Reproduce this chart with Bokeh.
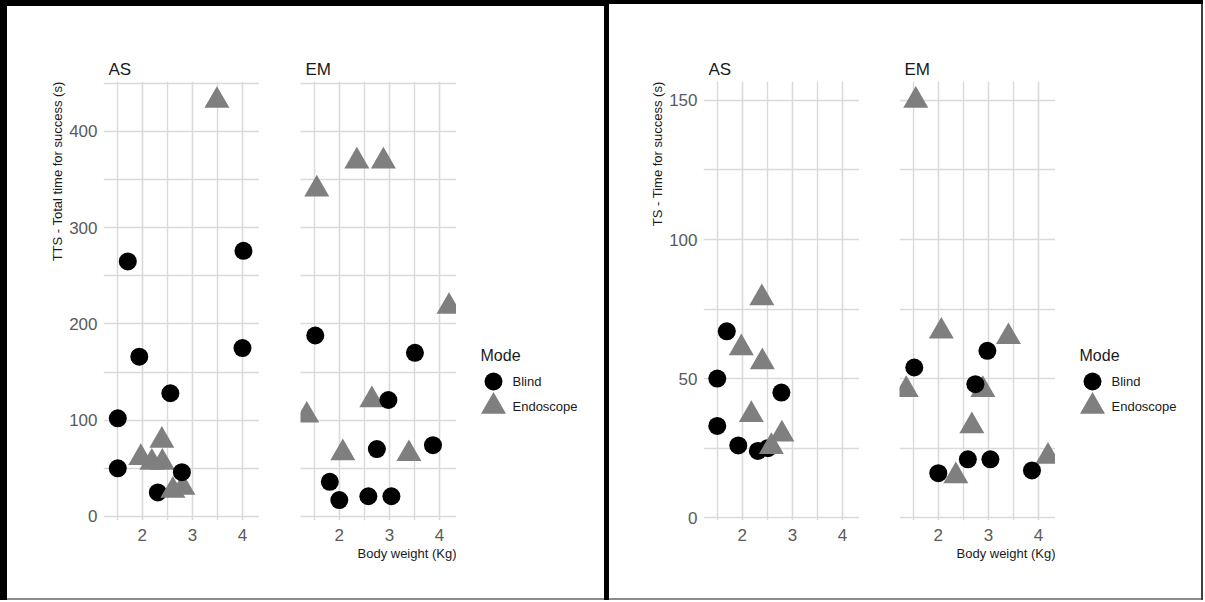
from bokeh.plotting import figure
from bokeh.models import Range1d, FixedTicker, Label, ColumnDataSource, Title
from bokeh.layouts import row
from bokeh.embed import file_html
from bokeh.resources import INLINE
from bokeh.transform import factor_cmap, factor_mark
from bokeh.core.properties import value

# ---------------- data ----------------
modes = ["Blind", "Endoscope"]
mode_colors = ["#000000", "#7f7f7f"]
mode_markers = ["circle", "triangle"]
mode_sizes = {"Blind": 18, "Endoscope": 25}

facets = ["AS", "EM"]
weight_ticks = [2, 3, 4]
weight_minor = [1.5, 2.5, 3.5]
tts_ticks = [0, 100, 200, 300, 400]
tts_minor = [50, 150, 250, 350, 450]
ts_ticks = [0, 50, 100, 150]
ts_minor = [25, 75, 125]

# TTS - Total time for success (s), AS group (draw order)
tts_as_weight = [1.71, 4.02, 1.94, 4.00, 2.56, 1.51, 1.51, 2.31, 3.49, 1.97, 2.19, 2.40, 2.39, 2.61, 2.81, 2.79]
tts_as_time = [265, 276, 166, 175, 128, 102, 50, 25, 432, 61, 56, 56, 79, 27, 30, 46]
tts_as_mode = ["Blind", "Blind", "Blind", "Blind", "Blind", "Blind", "Blind", "Blind",
               "Endoscope", "Endoscope", "Endoscope", "Endoscope", "Endoscope", "Endoscope", "Endoscope",
               "Blind"]

# TTS, EM group
tts_em_weight = [1.55, 2.35, 2.88, 4.19, 2.65, 1.35, 2.07, 3.39, 1.52, 3.51, 2.98, 2.75, 3.87, 1.81, 2.00, 2.58, 3.04]
tts_em_time = [340, 369, 369, 218, 121, 105, 66, 65, 188, 170, 121, 70, 74, 36, 17, 21, 21]
tts_em_mode = ["Endoscope"] * 8 + ["Blind"] * 9

# TS - Time for success (s), AS group
ts_as_weight = [1.69, 1.50, 2.78, 1.50, 1.92, 2.31, 2.51, 2.39, 1.98, 2.40, 2.18, 2.58, 2.79]
ts_as_time = [67, 50, 45, 33, 26, 24, 25, 79, 61, 56, 37, 25.5, 30]
ts_as_mode = ["Blind"] * 7 + ["Endoscope"] * 6

# TS, EM group
ts_em_weight = [1.55, 2.06, 3.40, 1.36, 2.89, 2.67, 2.35, 4.19, 2.98, 1.52, 2.74, 2.59, 3.04, 2.00, 3.87]
ts_em_time = [150, 67, 65, 46, 46, 33, 15, 22, 60, 54, 48, 21, 21, 16, 17]
ts_em_mode = ["Endoscope"] * 8 + ["Blind"] * 7

x_title = "Body weight (Kg)"
tts_title = "TTS - Total time for success (s)"
ts_title = "TS - Time for success (s)"
legend_title = "Mode"

# ---------------- style ----------------
FONT = "Liberation Sans"
GRID = "#dadada"
TICK_COLOR = "#5a5a5a"
TEXT_COLOR = "#1a1a1a"
FRAME_W, FRAME_H = 156, 439
TOP, BOTTOM = 81, 80


def panel(weight, time, mode, y_rng, yticks, yminor, facet, left_border,
          ytitle=None, xtitle=None):
    p = figure(frame_width=FRAME_W, frame_height=FRAME_H,
               min_border_left=left_border, min_border_right=0,
               min_border_top=TOP, min_border_bottom=BOTTOM,
               x_range=Range1d(1.225, 4.34), y_range=Range1d(*y_rng),
               title=facet,
               output_backend="svg", toolbar_location=None,
               background_fill_color=None, border_fill_color=None,
               outline_line_color=None)
    p.title.align = "left"
    p.title.offset = 5
    p.title.standoff = 6
    p.title.text_font = FONT
    p.title.text_font_size = "17px"
    p.title.text_font_style = "normal"
    p.title.text_color = TEXT_COLOR

    xt = FixedTicker(ticks=weight_ticks, minor_ticks=weight_minor)
    yt = FixedTicker(ticks=yticks, minor_ticks=yminor)
    p.xaxis.ticker = xt
    p.yaxis.ticker = yt
    p.xgrid.ticker = xt
    p.ygrid.ticker = yt
    for g in (p.xgrid, p.ygrid):
        g.grid_line_color = GRID
        g.grid_line_width = 1.6
        g.minor_grid_line_color = GRID
        g.minor_grid_line_width = 1.4
    for ax in p.axis:
        ax.axis_line_color = None
        ax.major_tick_line_color = None
        ax.minor_tick_line_color = None
        ax.major_tick_out = 0
        ax.major_tick_in = 0
        ax.minor_tick_out = 0
        ax.minor_tick_in = 0
        ax.major_label_text_font = FONT
        ax.major_label_text_font_size = "17px"
        ax.major_label_text_color = TICK_COLOR
    p.xaxis.major_label_standoff = 8
    p.yaxis.major_label_standoff = 6
    if ytitle is None:
        p.yaxis.visible = False

    src = ColumnDataSource(dict(weight=weight, time=time, mode=mode,
                                size=[mode_sizes[m] for m in mode]))
    p.scatter("weight", "time", source=src, size="size",
              marker=factor_mark("mode", mode_markers, modes),
              fill_color=factor_cmap("mode", mode_colors, modes),
              line_color=None)

    if ytitle is not None:
        t = Title(text=ytitle, align="right", standoff=4, text_font=FONT,
                  text_font_size="13px", text_font_style="normal",
                  text_color=TEXT_COLOR)
        p.add_layout(t, "left")
    if xtitle is not None:
        t = Title(text=xtitle, align="right", standoff=1, text_font=FONT,
                  text_font_size="13px", text_font_style="normal",
                  text_color=TEXT_COLOR)
        p.add_layout(t, "below")
    return p


def legend_fig(width):
    h = TOP + FRAME_H + BOTTOM
    p = figure(frame_width=width, frame_height=h, min_border=0,
               x_range=Range1d(0, width), y_range=Range1d(0, h),
               x_axis_location=None, y_axis_location=None,
               output_backend="svg", toolbar_location=None,
               background_fill_color=None, border_fill_color=None,
               outline_line_color=None)
    p.grid.visible = False
    title_x, title_y = 24, h - 274
    key_x, label_x = 37, 56
    first_y, step = h - 300, 25
    ys = [first_y - i * step for i in range(len(modes))]
    src = ColumnDataSource(dict(x=[key_x] * len(modes), y=ys, mode=modes,
                                size=[mode_sizes[m] for m in modes]))
    p.scatter("x", "y", source=src, size="size",
              marker=factor_mark("mode", mode_markers, modes),
              fill_color=factor_cmap("mode", mode_colors, modes),
              line_color=None)
    p.text(x=[label_x] * len(modes), y=ys, text=modes, text_baseline="middle",
           text_font=value(FONT), text_font_size=value("13px"),
           text_color=TEXT_COLOR)
    p.add_layout(Label(x=title_x, y=title_y, text=legend_title, text_font=FONT,
                       text_font_size="16px", text_baseline="middle",
                       text_color=TEXT_COLOR))
    return p


tts_rng = (-4.2, 451.9)
ts_rng = (-1.0, 156.8)

f1 = panel(tts_as_weight, tts_as_time, tts_as_mode, tts_rng, tts_ticks, tts_minor,
           facets[0], 103, ytitle=tts_title)
f2 = panel(tts_em_weight, tts_em_time, tts_em_mode, tts_rng, tts_ticks, tts_minor,
           facets[1], 41, xtitle=x_title)
l1 = legend_fig(150)

f3 = panel(ts_as_weight, ts_as_time, ts_as_mode, ts_rng, ts_ticks, ts_minor,
           facets[0], 97, ytitle=ts_title)
f4 = panel(ts_em_weight, ts_em_time, ts_em_mode, ts_rng, ts_ticks, ts_minor,
           facets[1], 40, xtitle=x_title)
l2 = legend_fig(148)

left = row(f1, f2, l1, styles={
    "box-shadow": "inset 7px 6px 0 0 #000000, inset -2px 0 0 0 #000000, inset 0 -2px 0 0 #8c8c8c"})
right = row(f3, f4, l2, styles={
    "box-shadow": "inset 3px 4px 0 0 #000000, inset -2px 0 0 0 #404040, inset 0 -2px 0 0 #8c8c8c"})
page = row(left, right)

open("out.html", "w").write(file_html(page, INLINE))
